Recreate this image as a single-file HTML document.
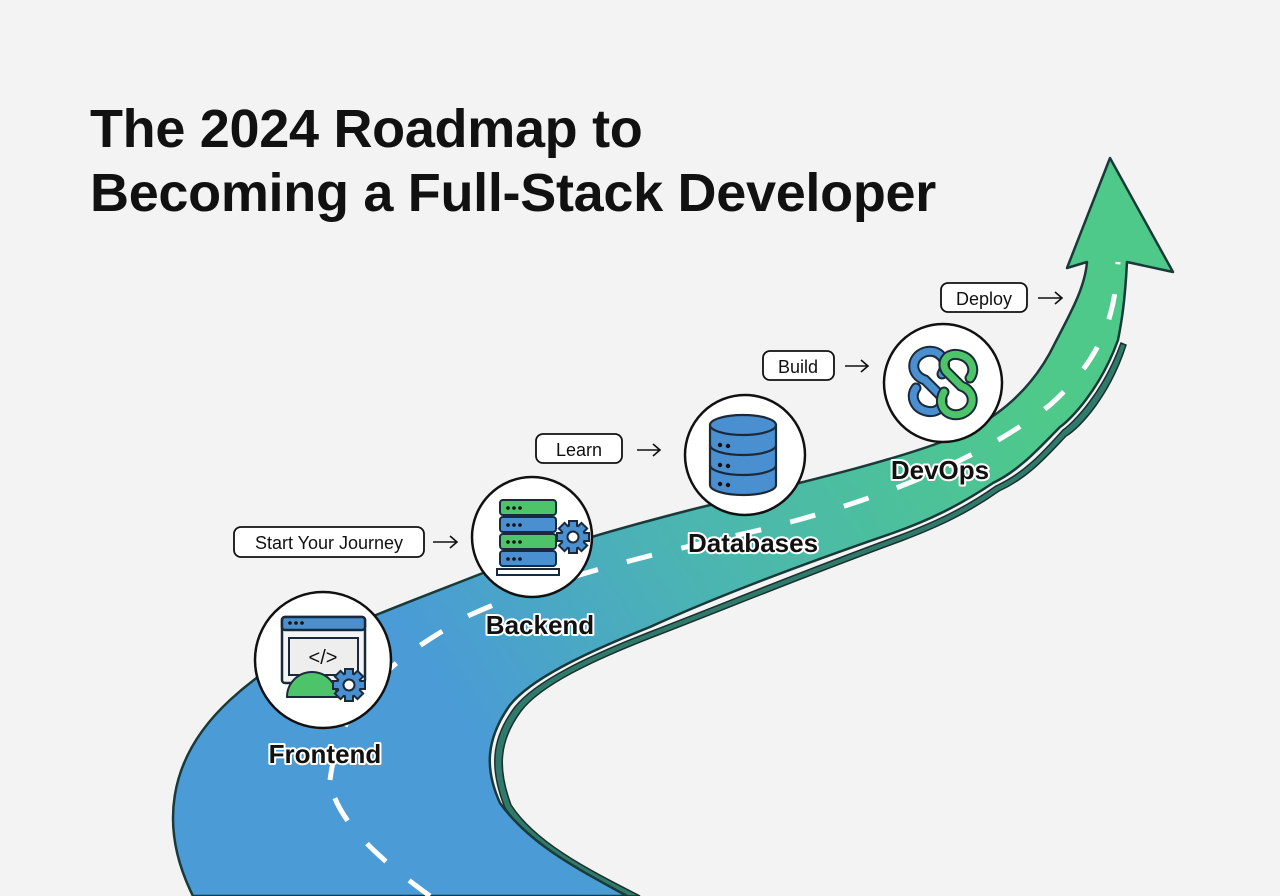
<!DOCTYPE html>
<html><head><meta charset="utf-8"><style>
html,body{margin:0;padding:0;background:#f3f3f3;}
body{width:1280px;height:896px;overflow:hidden;position:relative;font-family:"Liberation Sans",sans-serif;}
.t{position:absolute;left:90px;font-weight:bold;font-size:54px;color:#111;letter-spacing:-0.3px;line-height:1;white-space:nowrap;}
</style></head><body>
<div class="t" style="top:102px">The 2024 Roadmap to</div>
<div class="t" style="top:166px">Becoming a Full-Stack Developer</div>
<svg width="1280" height="896" style="position:absolute;left:0;top:0">
<defs>
<linearGradient id="g" x1="450" y1="700" x2="1000" y2="350" gradientUnits="userSpaceOnUse">
<stop offset="0" stop-color="#4a9bd6"/><stop offset="0.45" stop-color="#4bb6b0"/><stop offset="1" stop-color="#4ec98a"/>
</linearGradient>
<g id="gear"><circle r="11" fill="#4a8fd0" stroke="#1a2a3a" stroke-width="2"/>
<g fill="#4a8fd0" stroke="#1a2a3a" stroke-width="2">
<rect x="-4" y="-16" width="8" height="7"/><rect x="-4" y="9" width="8" height="7"/><rect x="-16" y="-4" width="7" height="8"/><rect x="9" y="-4" width="7" height="8"/>
<rect x="-4" y="-16" width="8" height="7" transform="rotate(45)"/><rect x="-4" y="9" width="8" height="7" transform="rotate(45)"/><rect x="-16" y="-4" width="7" height="8" transform="rotate(45)"/><rect x="9" y="-4" width="7" height="8" transform="rotate(45)"/></g>
<circle r="11" fill="#4a8fd0"/><circle r="5.5" fill="#fff" stroke="#1a2a3a" stroke-width="2"/></g>
</defs>
<!-- road side shading -->
<path d="M627,896 C580,870 530,845 505,808 C490,770 490,740 515,707 C535,682 585,657 655,630 C725,603 805,570 898,536 C935,522 965,508 996,486 C1025,473 1045,450 1063,430 C1073,423 1103,393 1121,343 L1126,345 C1110,395 1080,428 1066,436 C1048,455 1028,478 999,491 C968,513 938,527 901,541 C808,575 728,608 658,635 C590,661 540,686 521,711 C498,742 498,770 511,805 C535,842 585,868 640,896 Z" fill="#2f7a6a" stroke="#1a3030" stroke-width="1.5"/>
<!-- road -->
<path d="M193,896 C160,830 165,760 230,700 C290,645 350,625 483,573 C560,545 620,528 690,510 C790,485 880,465 947,440 C1000,420 1035,385 1055,343 C1075,305 1085,285 1087,262 L1067,268 L1110,158 L1173,272 L1127,262 C1125,300 1122,320 1118,340 C1100,390 1070,420 1060,427 C1040,447 1020,470 993,483 C960,505 930,520 893,533 C800,565 720,595 650,627 C580,655 530,680 510,705 C485,740 485,770 500,803 C530,845 580,870 627,896 Z" fill="url(#g)" stroke="#1a3a3a" stroke-width="2.5" stroke-linejoin="round"/>
<!-- dashes -->
<path d="M430,896 C380,860 335,820 330,780 M330,780 C340,700 390,660 470,615 C560,575 650,555 760,530 C880,500 980,460 1050,405 C1100,360 1115,320 1118,262" fill="none" stroke="#fff" stroke-width="5" stroke-dasharray="26,30"/>
<!-- circles -->
<g fill="#fff" stroke="#111" stroke-width="2.5">
<circle cx="323" cy="660" r="68"/><circle cx="532" cy="537" r="60"/><circle cx="745" cy="455" r="60"/><circle cx="943" cy="383" r="59"/>
</g>
<!-- frontend icon -->
<rect x="282" y="617" width="83" height="66" rx="3" fill="#f4f4f4" stroke="#1a2a3a" stroke-width="2.5"/>
<rect x="282" y="617" width="83" height="13" rx="3" fill="#4a8fd0" stroke="#1a2a3a" stroke-width="2.5"/>
<circle cx="290" cy="623" r="1.8" fill="#111"/><circle cx="296" cy="623" r="1.8" fill="#111"/><circle cx="302" cy="623" r="1.8" fill="#111"/>
<rect x="289" y="638" width="69" height="37" fill="#eee" stroke="#1a2a3a" stroke-width="2"/>
<text x="323" y="664" font-size="20" text-anchor="middle" font-family="Liberation Sans" fill="#111">&lt;/&gt;</text>
<path d="M287,697 A25,25 0 0 1 337,697 Z" fill="#4ec46a" stroke="#1a2a3a" stroke-width="2"/>
<use href="#gear" transform="translate(349,685)"/>
<!-- backend icon -->
<g stroke="#1a2a3a" stroke-width="2">
<rect x="500" y="500" width="56" height="15" rx="3" fill="#4ec46a"/>
<rect x="500" y="517" width="56" height="15" rx="3" fill="#4a8fd0"/>
<rect x="500" y="534" width="56" height="15" rx="3" fill="#4ec46a"/>
<rect x="500" y="551" width="56" height="15" rx="3" fill="#4a8fd0"/>
<rect x="497" y="569" width="62" height="6" fill="#fff"/>
</g>
<g fill="#111"><circle cx="508" cy="508" r="1.8"/><circle cx="514" cy="508" r="1.8"/><circle cx="520" cy="508" r="1.8"/>
<circle cx="508" cy="525" r="1.8"/><circle cx="514" cy="525" r="1.8"/><circle cx="520" cy="525" r="1.8"/>
<circle cx="508" cy="542" r="1.8"/><circle cx="514" cy="542" r="1.8"/><circle cx="520" cy="542" r="1.8"/>
<circle cx="508" cy="559" r="1.8"/><circle cx="514" cy="559" r="1.8"/><circle cx="520" cy="559" r="1.8"/></g>
<use href="#gear" transform="translate(573,537)"/>
<!-- database icon -->
<g stroke="#1a2a3a" stroke-width="2.2" fill="#4a8fd0">
<path d="M710,425 L710,485 A33,10 0 0 0 776,485 L776,425"/>
<ellipse cx="743" cy="425" rx="33" ry="10"/>
<path d="M710,445 A33,10 0 0 0 776,445" fill="none"/>
<path d="M710,465 A33,10 0 0 0 776,465" fill="none"/>
</g>
<g fill="#111"><circle cx="720" cy="445" r="2.2"/><circle cx="728" cy="446" r="2.2"/><circle cx="720" cy="465" r="2.2"/><circle cx="728" cy="466" r="2.2"/><circle cx="720" cy="484" r="2.2"/><circle cx="728" cy="485" r="2.2"/></g>
<!-- devops icon -->
<g fill="none" stroke-linecap="round" stroke-linejoin="round">
<path id="bl" d="M942,374 C950,360 938,348 925,352 C910,357 910,375 925,380 L940,395 C946,405 938,414 926,411 C914,408 910,396 916,388"/>
<path id="gr" d="M944,392 C936,406 948,418 961,414 C976,409 976,391 961,386 L946,371 C940,361 948,352 960,355 C972,358 976,370 970,378"/>
</g>
<path d="M942,374 C950,360 938,348 925,352 C910,357 910,375 925,380 L940,395 C946,405 938,414 926,411 C914,408 910,396 916,388" fill="none" stroke="#1a2a3a" stroke-width="11" stroke-linecap="round"/>
<path d="M942,374 C950,360 938,348 925,352 C910,357 910,375 925,380 L940,395 C946,405 938,414 926,411 C914,408 910,396 916,388" fill="none" stroke="#4a8fd0" stroke-width="7" stroke-linecap="round"/>
<path d="M944,392 C936,406 948,418 961,414 C976,409 976,391 961,386 L946,371 C940,361 948,352 960,355 C972,358 976,370 970,378" fill="none" stroke="#1a2a3a" stroke-width="11" stroke-linecap="round"/>
<path d="M944,392 C936,406 948,418 961,414 C976,409 976,391 961,386 L946,371 C940,361 948,352 960,355 C972,358 976,370 970,378" fill="none" stroke="#4ec46a" stroke-width="7" stroke-linecap="round"/>
<!-- labels -->
<g font-family="Liberation Sans" font-weight="bold" font-size="26" text-anchor="middle" fill="#111" stroke="#fff" stroke-width="4" paint-order="stroke" stroke-linejoin="round">
<text x="325" y="763">Frontend</text><text x="540" y="634">Backend</text><text x="753" y="552">Databases</text><text x="940" y="479">DevOps</text>
</g>
<!-- pills -->
<g fill="#fff" stroke="#111" stroke-width="1.8">
<rect x="234" y="527" width="190" height="30" rx="7"/><rect x="536" y="434" width="86" height="29" rx="7"/><rect x="763" y="351" width="71" height="29" rx="7"/><rect x="941" y="283" width="86" height="29" rx="7"/>
</g>
<g font-family="Liberation Sans" font-size="18" text-anchor="middle" fill="#111">
<text x="329" y="549">Start Your Journey</text><text x="579" y="456">Learn</text><text x="798" y="373">Build</text><text x="984" y="305">Deploy</text>
</g>
<g fill="none" stroke="#111" stroke-width="1.6">
<path d="M433,542 H457 M450,536 L457,542 L450,548"/>
<path d="M637,450 H660 M653,444 L660,450 L653,456"/>
<path d="M845,366 H868 M861,360 L868,366 L861,372"/>
<path d="M1038,298 H1062 M1055,292 L1062,298 L1055,304"/>
</g>
</svg>
</body></html>
